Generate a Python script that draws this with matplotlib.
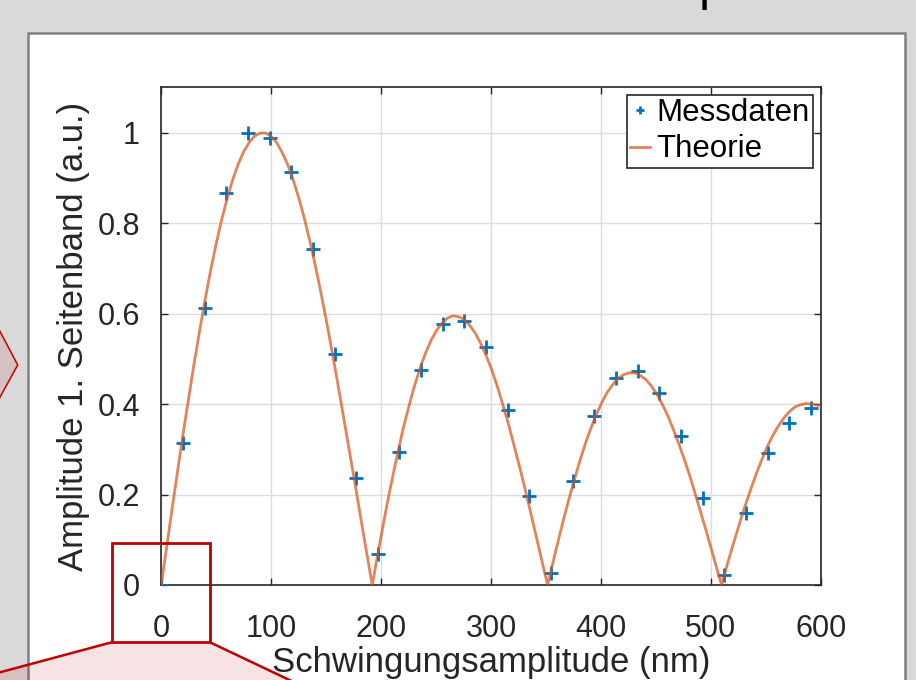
import matplotlib
matplotlib.use("Agg")
import matplotlib.pyplot as plt
from matplotlib.patches import Rectangle, Polygon
from matplotlib.lines import Line2D

plt.rcParams['font.family'] = ['Liberation Sans', 'DejaVu Sans']

# Measured data (Messdaten)
mess_x = [0, 19.7, 39.4, 59.1, 78.8, 98.5, 118.2, 137.9, 157.6, 177.3, 197.0,
          216.7, 236.4, 256.1, 275.8, 295.5, 315.2, 334.9, 354.6, 374.3, 394.0,
          413.7, 433.4, 453.1, 472.8, 492.5, 512.2, 531.9, 551.6, 571.3, 591.0]
mess_y = [0, 0.314, 0.612, 0.867, 0.999, 0.988, 0.913, 0.743, 0.511, 0.237, 0.069,
          0.294, 0.475, 0.577, 0.584, 0.526, 0.387, 0.197, 0.027, 0.230, 0.373,
          0.457, 0.473, 0.425, 0.330, 0.192, 0.022, 0.159, 0.292, 0.358, 0.391]

# Theory curve
theo_x = [0, 5.0, 10.0, 15.0, 20.0, 25.1, 30.1, 35.1, 40.1, 45.1, 50.1, 55.1,
          60.1, 65.1, 70.1, 75.2, 80.2, 85.2, 90.2, 95.2, 100.2, 105.2, 110.2,
          115.2, 120.2, 125.3, 130.3, 135.3, 140.3, 145.3, 150.3, 155.3, 160.3,
          165.3, 170.3, 175.4, 180.4, 185.4, 190.4, 192.0, 195.4, 200.4, 205.4,
          210.4, 215.4, 220.4, 225.5, 230.5, 235.5, 240.5, 245.5, 250.5, 255.5,
          260.5, 265.5, 270.5, 275.6, 280.6, 285.6, 290.6, 295.6, 300.6, 305.6,
          310.6, 315.6, 320.6, 325.7, 330.7, 335.7, 340.7, 345.7, 350.7, 351.5,
          355.7, 360.7, 365.7, 370.7, 375.8, 380.8, 385.8, 390.8, 395.8, 400.8,
          405.8, 410.8, 415.8, 420.8, 425.9, 430.9, 435.9, 440.9, 445.9, 450.9,
          455.9, 460.9, 465.9, 470.9, 476.0, 481.0, 486.0, 491.0, 496.0, 501.0,
          506.0, 509.7, 511.0, 516.0, 521.0, 526.1, 531.1, 536.1, 541.1, 546.1,
          551.1, 556.1, 561.1, 566.1, 571.1, 576.2, 581.2, 586.2, 591.2, 596.2,
          601.2]
theo_y = [0, 0.086, 0.171, 0.255, 0.337, 0.416, 0.493, 0.565, 0.634, 0.698, 0.756,
          0.809, 0.856, 0.897, 0.931, 0.959, 0.979, 0.993, 0.999, 0.999, 0.991,
          0.977, 0.955, 0.928, 0.894, 0.854, 0.809, 0.759, 0.704, 0.645, 0.583,
          0.517, 0.449, 0.379, 0.308, 0.236, 0.164, 0.092, 0.022, 0.0, 0.047,
          0.113, 0.178, 0.238, 0.295, 0.349, 0.397, 0.441, 0.480, 0.513, 0.541,
          0.563, 0.579, 0.590, 0.595, 0.593, 0.587, 0.574, 0.557, 0.534, 0.507,
          0.476, 0.440, 0.400, 0.358, 0.312, 0.264, 0.215, 0.164, 0.112, 0.060,
          0.008, 0.0, 0.043, 0.093, 0.142, 0.188, 0.232, 0.274, 0.312, 0.346,
          0.377, 0.403, 0.426, 0.443, 0.457, 0.465, 0.469, 0.469, 0.463, 0.454,
          0.440, 0.422, 0.399, 0.374, 0.344, 0.312, 0.277, 0.240, 0.200, 0.159,
          0.118, 0.075, 0.032, 0.0, 0.011, 0.054, 0.095, 0.136, 0.174, 0.210,
          0.244, 0.275, 0.304, 0.329, 0.350, 0.368, 0.382, 0.393, 0.398, 0.401,
          0.400, 0.398, 0.395]

xticks = [0, 100, 200, 300, 400, 500, 600]
yticks = [0, 0.2, 0.4, 0.6, 0.8, 1.0]
ytick_labels = ['0', '0.2', '0.4', '0.6', '0.8', '1']

W, H = 916, 680
fig = plt.figure(figsize=(W / 100, H / 100), dpi=100, facecolor='#d9d9d9')


def fp(x, y):
    return (x / W, 1 - y / H)


# white slide panel
panel = Rectangle(fp(28, 720), (905 - 28) / W, (720 - 33) / H,
                  transform=fig.transFigure, facecolor='white',
                  edgecolor='#808080', linewidth=1.8, zorder=-5)
fig.add_artist(panel)

# partially visible title glyph
fig.text(699 / W, 1 + 0.5 / H, 'p', fontsize=36, color='black',
         va='baseline', ha='left')

ax = fig.add_axes([161.3 / W, 95 / H, 659.4 / W, 497.7 / H])
ax.plot(mess_x, mess_y, linestyle='none', marker='+', markersize=10,
        markeredgewidth=2.0, color='#0072BD', label='Messdaten', zorder=3)
ax.plot(theo_x, theo_y, color='#D95319', alpha=0.72, linewidth=2.0,
        label='Theorie', zorder=4)

ax.set_xlim(0, 600)
ax.set_ylim(0, 1.1)
ax.set_xticks(xticks)
ax.set_yticks(yticks)
ax.set_yticklabels(ytick_labels)
ax.grid(True, color='#dcdcdc', linewidth=1.0)
ax.set_axisbelow(True)
ax.tick_params(direction='in', top=True, right=True, length=5, width=1.0,
               labelsize=22, colors='#262626')
ax.tick_params(axis='x', pad=21)
ax.tick_params(axis='y', pad=15.5)
for s in ax.spines.values():
    s.set_color('#262626')
    s.set_linewidth(1.2)

ax.set_xlabel('Schwingungsamplitude (nm)', fontsize=25, color='#262626',
              labelpad=1.5)
ax.set_ylabel('Amplitude 1. Seitenband (a.u.)', fontsize=25, color='#262626',
              labelpad=5)

leg = ax.legend(loc='upper right', fontsize=22.5, frameon=True, fancybox=False,
                framealpha=1, edgecolor='#262626', handlelength=0.65,
                handletextpad=0.2, borderpad=0.1, labelspacing=0.2,
                markerscale=0.6, borderaxespad=0.25)
leg.get_frame().set_linewidth(1.2)
for t in leg.get_texts():
    t.set_color('black')

# annotation shapes (red callout)
red = '#c00000'
pink = (0.75, 0.0, 0.0, 0.11)

chev = Polygon([fp(-6, 320), fp(17.7, 365), fp(-6, 408)], closed=True,
               transform=fig.transFigure, facecolor=pink, edgecolor=red,
               linewidth=1.1, zorder=20)
fig.add_artist(chev)

trap = Polygon([fp(-10, 675), fp(111.7, 642.3), fp(210, 642.3), fp(300, 685),
                fp(-10, 685)], closed=True, transform=fig.transFigure,
               facecolor=pink, edgecolor='none', zorder=20)
fig.add_artist(trap)
for (x0, y0, x1, y1) in [(111.7, 642.3, -10, 675), (210, 642.3, 300, 685)]:
    a, b = fp(x0, y0), fp(x1, y1)
    fig.add_artist(Line2D([a[0], b[0]], [a[1], b[1]], transform=fig.transFigure,
                          color=red, linewidth=1.8, zorder=21))

box = Rectangle(fp(111.7, 642.3), (210 - 111.7) / W, (642.3 - 543.3) / H,
                transform=fig.transFigure, facecolor='none', edgecolor=red,
                linewidth=2.0, zorder=22)
fig.add_artist(box)

fig.savefig('out.png', dpi=100, facecolor=fig.get_facecolor())
